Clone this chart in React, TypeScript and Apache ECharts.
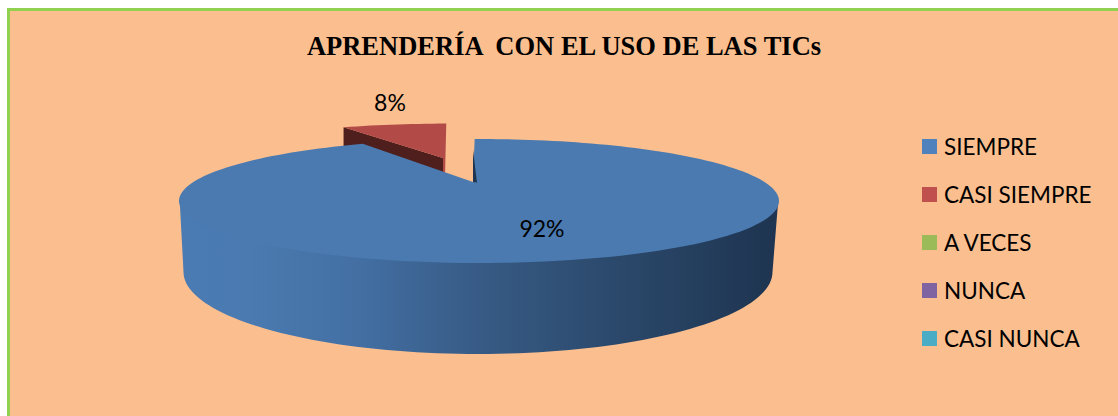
import React, { useEffect, useRef } from "react";
import * as echarts from "echarts";

const titleText = "APRENDERÍA  CON EL USO DE LAS TICs";
const categories = ["SIEMPRE", "CASI SIEMPRE", "A VECES", "NUNCA", "CASI NUNCA"];
const values = [92, 8, 0, 0, 0];
const legendColors = ["#4F81BD", "#C0504D", "#9BBB59", "#8064A2", "#4BACC6"];

const total = values.reduce((a, b) => a + b, 0);
const FONT = "Lato";
const START_DEG = -1.1;
const TILT = 0.274; // perspective shift of the pie centre
const CX = 479, CY = 201, RX = 300, RY = 62;
const APEX: [number, number] = [475, 184];

function rim(deg: number): [number, number] {
  const a = (deg * Math.PI) / 180;
  const u = Math.sin(a), v = -Math.cos(a);
  const d = 1 - TILT * v;
  const up = (u * Math.sqrt(1 - TILT * TILT)) / d;
  const vp = (v - TILT) / d;
  return [CX + RX * up, CY + RY * vp];
}

function rimPoints(from: number, to: number): [number, number][] {
  const n = Math.max(2, Math.ceil(Math.abs(to - from) / 2));
  const pts: [number, number][] = [];
  for (let i = 0; i <= n; i++) pts.push(rim(from + ((to - from) * i) / n));
  return pts;
}

function ellipsePts(cx: number, cy: number, rx: number, ry: number, from: number, to: number) {
  const pts: [number, number][] = [];
  const n = 90;
  for (let i = 0; i <= n; i++) {
    const a = ((from + ((to - from) * i) / n) * Math.PI) / 180;
    pts.push([cx + rx * Math.cos(a), cy + ry * Math.sin(a)]);
  }
  return pts;
}

function renderSlice(params: any, api: any) {
  const idx = params.seriesIndex;
  const value = api.value(0);
  if (!value) return { type: "group", children: [] };
  let before = 0;
  for (let i = 0; i < idx; i++) before += values[i];
  const from = START_DEG + (before / total) * 360;
  const to = from + (value / total) * 360;
  const pct = Math.round((value / total) * 100) + "%";
  const children: any[] = [];
  if (idx === 0) {
    const wall = [
      ...ellipsePts(CX, CY - 4, RX - 0.5, RY, 0, 180),
      ...ellipsePts(CX - 1, 272, 294.5, 82, 180, 0),
    ];
    children.push({
      type: "polygon",
      shape: { points: wall },
      style: {
        fill: {
          type: "linear", x: 0, y: 0, x2: 1, y2: 0,
          colorStops: [
            { offset: 0, color: "#4A7BB3" },
            { offset: 0.12, color: "#4A7AB0" },
            { offset: 0.3, color: "#436FA3" },
            { offset: 0.5, color: "#375B85" },
            { offset: 0.75, color: "#2A4769" },
            { offset: 1, color: "#1E3450" },
          ],
        },
      },
    });
    const face = rimPoints(from, to);
    face.push([473, 182]);
    children.push({ type: "polygon", shape: { points: face }, style: { fill: "#4A7AB0" } });
    children.push({
      type: "polygon",
      shape: { points: [[473, 150], [477, 182.5], [473, 182]] },
      style: { fill: "#1E3450" },
    });
    children.push({
      type: "text", x: 542, y: 228,
      style: { text: pct, fill: "#000", fontFamily: FONT, fontSize: 23, align: "center", verticalAlign: "middle" },
    });
  } else {
    const ax = 443, ay = 158, sx = 0.915, sy = 0.765, k = -0.08;
    const pts = rimPoints(from, to).map(([x, y]) => {
      const dx = x - APEX[0], dy = y - APEX[1];
      return [ax + sx * dx + k * dy, ay + sy * dy] as [number, number];
    });
    const left = pts[0];
    children.push({
      type: "polygon",
      shape: { points: [left, [ax, ay], [ax, 176], [left[0], 152]] },
      style: { fill: "#4F1F1E" },
    });
    children.push({
      type: "polygon",
      shape: { points: [...pts, [445, 176], [ax, 176], [ax, ay]] },
      style: { fill: "#B24A47" },
    });
    children.push({
      type: "text", x: 390, y: 102,
      style: { text: pct, fill: "#000", fontFamily: FONT, fontSize: 23, align: "center", verticalAlign: "middle" },
    });
  }
  return { type: "group", children };
}

export default function App() {
  const ref = useRef<HTMLDivElement>(null);
  useEffect(() => {
    const chart = echarts.init(ref.current!, undefined, { renderer: "svg" });
    chart.setOption({
      animation: false,
      backgroundColor: "#FFFFFF",
      title: {
        text: titleText,
        left: 559,
        top: 27,
        textAlign: "center",
        textStyle: { fontFamily: "Liberation Serif", fontWeight: "bold", fontSize: 26.5, color: "#000" },
      },
      graphic: [
        {
          type: "rect",
          z: -10,
          silent: true,
          shape: { x: 8.5, y: 9.5, width: 1300, height: 600 },
          style: { fill: "#FBBF8F", stroke: "#92D050", lineWidth: 3 },
        },
      ],
      legend: {
        orient: "vertical",
        left: 922,
        top: 135,
        icon: "rect",
        itemWidth: 15,
        itemHeight: 15,
        itemGap: 25,
        padding: 0,
        selectedMode: false,
        data: categories,
        textStyle: { fontFamily: FONT, fontSize: 22.5, color: "#000", padding: [0, 0, 0, 2], lineHeight: 15 },
      },
      series: categories.map((name, i) => ({
        type: "custom",
        name,
        coordinateSystem: "none",
        renderItem: renderSlice,
        z: i === 0 ? 5 : 3,
        silent: true,
        itemStyle: { color: legendColors[i] },
        data: [[values[i]]],
      })),
    });
    return () => chart.dispose();
  }, []);
  return (
    <div
      ref={ref}
      style={{ position: "fixed", left: 0, top: 0, width: 1118, height: 416 }}
    />
  );
}
